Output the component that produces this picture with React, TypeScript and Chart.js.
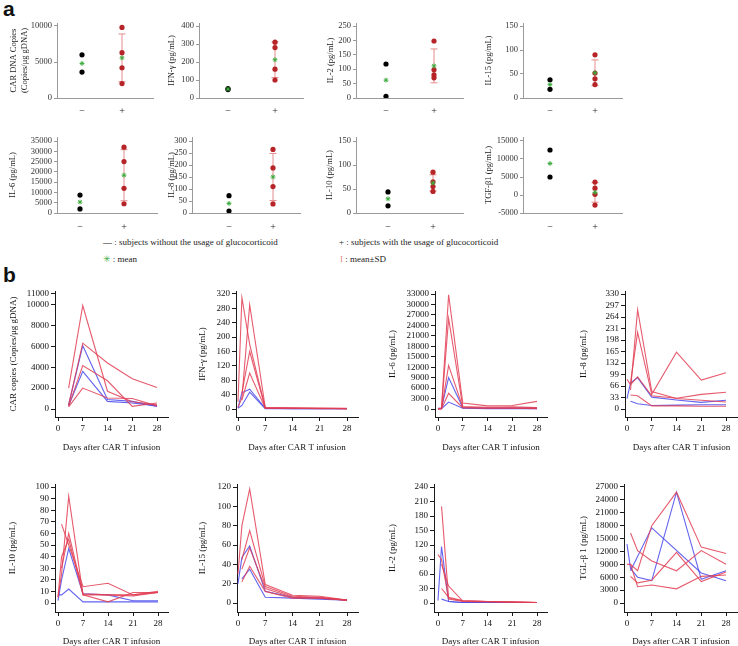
import React, { useEffect, useRef } from 'react';
import { Chart, registerables } from 'chart.js';
Chart.register(...registerables);

const SERIF = "'Liberation Serif', 'Times New Roman', Times, serif";
Chart.defaults.font.family = SERIF;

// ---------------- Panel a data ----------------
const GROUP_LABELS = ['−', '+'];
const A_CAR_MINUS = [6000, 3600];
const A_CAR_PLUS = [9800, 6300, 4200, 2000];
const A_CAR_TICKS = [0, 5000, 10000];
const A_IFN_MINUS = [52, 47];
const A_IFN_PLUS = [310, 280, 160, 100];
const A_IFN_TICKS = [0, 100, 200, 300, 400];
const A_IL2_MINUS = [118, 6];
const A_IL2_PLUS = [198, 98, 80, 70];
const A_IL2_TICKS = [0, 50, 100, 150, 200, 250];
const A_IL15_MINUS = [38, 18];
const A_IL15_PLUS = [90, 52, 40, 28];
const A_IL15_TICKS = [0, 50, 100, 150];
const A_IL6_MINUS = [8700, 2000];
const A_IL6_PLUS = [32000, 25000, 12000, 4500];
const A_IL6_TICKS = [0, 5000, 10000, 15000, 20000, 25000, 30000, 35000];
const A_IL8_MINUS = [72, 8];
const A_IL8_PLUS = [265, 188, 110, 38];
const A_IL8_TICKS = [0, 50, 100, 150, 200, 250, 300];
const A_IL10_MINUS = [44, 15];
const A_IL10_PLUS = [85, 65, 55, 45];
const A_IL10_TICKS = [0, 50, 100, 150];
const A_TGF_MINUS = [12500, 5000];
const A_TGF_PLUS = [3600, 1900, 200, -2800];
const A_TGF_TICKS = [-5000, 0, 5000, 10000, 15000];

// ---------------- Panel b data ----------------
const DAYS = [0, 1, 3, 7, 14, 21, 28];
const CAR_DAYS = [3, 7, 14, 21, 28];
const B_X_TICKS = [0, 7, 14, 21, 28];

const B_CAR_RED = [
  [2000, 9900, 1700, 700, 400],
  [400, 6300, 4400, 2900, 2050],
  [250, 4150, 2700, 250, 570],
  [200, 2000, 1050, 1000, 300],
];
const B_CAR_BLUE = [
  [400, 6050, 900, 730, 250],
  [300, 3600, 730, 570, 300],
];
const B_CAR_TICKS = [0, 2000, 4000, 6000, 8000, 10000, 11000];

const B_IFN_RED = [
  [20, 310, 180, 3, 2, 2, 1],
  [5, 30, 290, 4, 3, 2, 2],
  [null, 45, 160, 3, 2, 2, 1],
  [null, 25, 100, 2, 2, 1, 1],
];
const B_IFN_BLUE = [
  [3, 45, 55, 2, 1, 1, 1],
  [2, 10, 47, 1, 1, 1, 1],
];
const B_IFN_TICKS = [0, 40, 80, 120, 160, 200, 240, 280, 320];

const B_IL6_RED = [
  [100, 300, 32800, 1700, 900, 1000, 2200],
  [100, 200, 26000, 700, 500, 600, 400],
  [0, 100, 12500, 500, 300, 300, 200],
  [0, 100, 4500, 300, 200, 200, 100],
];
const B_IL6_BLUE = [
  [200, 300, 9000, 400, 300, 300, 300],
  [0, 100, 2000, 200, 100, 100, 100],
];
const B_IL6_TICKS = [0, 3000, 6000, 9000, 12000, 15000, 18000, 21000, 24000, 27000, 30000, 33000];

const B_IL8_RED = [
  [null, 55, 285, 50, 30, 25, 20],
  [null, 75, 220, 42, 163, 83, 104],
  [85, 70, 92, 38, 31, 42, 48],
  [null, 40, 38, 9, 9, 8, 8],
];
const B_IL8_BLUE = [
  [30, 75, 90, 34, 26, 19, 25],
  [null, 22, 15, 10, 11, 12, 12],
];
const B_IL8_TICKS = [0, 33, 66, 99, 132, 165, 198, 231, 264, 297, 330];

const B_IL10_RED = [
  [5, 25, 92, 7, 1, 9, 9],
  [null, 68, 50, 14, 17, 7, 10],
  [null, 30, 60, 8, 7, 7, 9],
  [5, 40, 55, 7, 7, 6, 9],
];
const B_IL10_BLUE = [
  [2, 20, 47, 8, 7, 2, 2],
  [7, 7, 12, 1, 1, 1, 1],
];
const B_IL10_TICKS = [0, 10, 20, 30, 40, 50, 60, 70, 80, 90, 100];

const B_IL15_RED = [
  [30, 80, 118, 19, 8, 7, 3],
  [null, 45, 75, 17, 7, 6, 3],
  [null, 35, 57, 15, 6, 5, 3],
  [null, 22, 38, 12, 5, 5, 3],
];
const B_IL15_BLUE = [
  [20, 47, 59, 12, 6, 5, 3],
  [null, 25, 35, 6, 5, 4, 3],
];
const B_IL15_TICKS = [0, 20, 40, 60, 80, 100, 120];

const B_IL2_RED = [
  [100, 90, 8, 3, 2, 2, 1],
  [null, 200, 10, 4, 3, 2, 1],
  [null, 80, 35, 4, 3, 2, 1],
  [null, 30, 12, 5, 3, 2, 1],
];
const B_IL2_BLUE = [
  [5, 117, 3, 1, 1, 1, 1],
  [null, 8, 3, 1, 1, 1, 1],
];
const B_IL2_TICKS = [0, 30, 60, 90, 120, 150, 180, 210, 240];

const B_TGF_RED = [
  [null, 16300, 12200, 9800, 7500, 12200, 9000],
  [9000, 9000, 3800, 4200, 3300, 6200, 6500],
  [null, 6200, 4700, 5300, 11800, 5000, 7200],
  [null, 9000, 7500, 18000, 25800, 13000, 11500],
];
const B_TGF_BLUE = [
  [null, 7500, null, 17500, null, 7000, 5200],
  [13700, 8000, 6000, 5200, 25800, 5500, 7500],
];
const B_TGF_TICKS = [0, 3000, 6000, 9000, 12000, 15000, 18000, 21000, 24000, 27000];

// ---------------- layout / style ----------------
const A_ROWS = [
  { areaTop: 23, areaBottom: 98, hiPx: 26, labelPad: 7 },
  { areaTop: 137, areaBottom: 213, hiPx: 141, labelPad: 8 },
];
const B_ROWS = [
  { areaTop: 291, areaBottom: 417, hiPx: 294, zeroPx: 409, xh: 35.4 },
  { areaTop: 484, areaBottom: 612, hiPx: 487, zeroPx: 603, xh: 34.4 },
];

const A_PLOTS = [
  { title: ['CAR DNA Copies', '(Copies/μg gDNA)'], minus: A_CAR_MINUS, plus: A_CAR_PLUS, ticks: A_CAR_TICKS, row: 0, axisX: 57, x0: 82, x1: 122, end: 153, titleX: 14 },
  { title: 'IFN-γ (pg/mL)', minus: A_IFN_MINUS, plus: A_IFN_PLUS, ticks: A_IFN_TICKS, row: 0, axisX: 199, x0: 228, x1: 275, end: 303, titleX: 172 },
  { title: 'IL-2 (pg/mL)', minus: A_IL2_MINUS, plus: A_IL2_PLUS, ticks: A_IL2_TICKS, row: 0, axisX: 356, x0: 386, x1: 434, end: 463, titleX: 331 },
  { title: 'IL-15 (pg/mL)', minus: A_IL15_MINUS, plus: A_IL15_PLUS, ticks: A_IL15_TICKS, row: 0, axisX: 523, x0: 550, x1: 595, end: 622, titleX: 489 },
  { title: 'IL-6 (pg/mL)', minus: A_IL6_MINUS, plus: A_IL6_PLUS, ticks: A_IL6_TICKS, row: 1, axisX: 57, x0: 80, x1: 124, end: 157, titleX: 13 },
  { title: 'IL-8 (pg/mL)', minus: A_IL8_MINUS, plus: A_IL8_PLUS, ticks: A_IL8_TICKS, row: 1, axisX: 192, x0: 229, x1: 273, end: 300, titleX: 172 },
  { title: 'IL-10 (pg/mL)', minus: A_IL10_MINUS, plus: A_IL10_PLUS, ticks: A_IL10_TICKS, row: 1, axisX: 356, x0: 388, x1: 433, end: 463, titleX: 330 },
  { title: 'TGF-β1 (pg/mL)', minus: A_TGF_MINUS, plus: A_TGF_PLUS, ticks: A_TGF_TICKS, row: 1, axisX: 523, x0: 550, x1: 595, end: 622, titleX: 489 },
];

const B_PLOTS = [
  { title: 'CAR copies (Copies/μg gDNA)', days: CAR_DAYS, red: B_CAR_RED, blue: B_CAR_BLUE, ticks: B_CAR_TICKS, row: 0, axisX: 55, x0: 58, x28: 157, end: 168, titleX: 13 },
  { title: 'IFN-γ (pg/mL)', days: DAYS, red: B_IFN_RED, blue: B_IFN_BLUE, ticks: B_IFN_TICKS, row: 0, axisX: 236, x0: 238, x28: 347, end: 358, titleX: 202 },
  { title: 'IL-6 (pg/mL)', days: DAYS, red: B_IL6_RED, blue: B_IL6_BLUE, ticks: B_IL6_TICKS, row: 0, axisX: 435, x0: 438, x28: 537, end: 547, titleX: 392 },
  { title: 'IL-8 (pg/mL)', days: DAYS, red: B_IL8_RED, blue: B_IL8_BLUE, ticks: B_IL8_TICKS, row: 0, axisX: 625, x0: 627, x28: 726, end: 738, titleX: 583 },
  { title: 'IL-10 (pg/mL)', days: DAYS, red: B_IL10_RED, blue: B_IL10_BLUE, ticks: B_IL10_TICKS, row: 1, axisX: 55, x0: 58, x28: 158, end: 168, titleX: 12 },
  { title: 'IL-15 (pg/mL)', days: DAYS, red: B_IL15_RED, blue: B_IL15_BLUE, ticks: B_IL15_TICKS, row: 1, axisX: 237, x0: 238, x28: 347, end: 358, titleX: 202 },
  { title: 'IL-2 (pg/mL)', days: DAYS, red: B_IL2_RED, blue: B_IL2_BLUE, ticks: B_IL2_TICKS, row: 1, axisX: 434, x0: 438, x28: 537, end: 547, titleX: 392 },
  { title: 'TGL-β 1 (pg/mL)', days: DAYS, red: B_TGF_RED, blue: B_TGF_BLUE, ticks: B_TGF_TICKS, row: 1, axisX: 624, x0: 627, x28: 726, end: 738, titleX: 583 },
];

const A_FONT = 8.5;
const B_FONT = 9;
const A_AXIS = '#9a9a9a';
const B_AXIS = '#1a1a1a';
const DOT_RED = 'rgb(182, 36, 40)';
const BAR_PINK = 'rgb(228, 140, 140)';
const MEAN_GREEN = 'rgb(60, 170, 60)';
const LINE_RED = 'rgba(226, 62, 84, 0.85)';
const LINE_BLUE = 'rgba(72, 72, 236, 0.85)';

function mean(a: number[]) {
  return a.reduce((s, v) => s + v, 0) / a.length;
}
function sd(a: number[]) {
  const m = mean(a);
  return Math.sqrt(a.reduce((s, v) => s + (v - m) * (v - m), 0) / (a.length - 1));
}

function geom(axisX: number, titleX: number, lh: number, areaTop: number, areaBottom: number, areaW: number, pt: number, prMin: number, xhWanted: number) {
  const left = Math.round(titleX - lh / 2);
  const lw = axisX - left;
  const top = areaTop - pt;
  const height = Math.ceil(pt + (areaBottom - areaTop) + xhWanted);
  const xh = height - pt - (areaBottom - areaTop);
  const width = Math.ceil(lw + areaW + prMin);
  const pr = width - lw - areaW;
  return { left, top, width, height, lw, xh, pr, pt };
}

function buildA(p: any) {
  const row = A_ROWS[p.row];
  const lo = p.ticks[0];
  const hi = p.ticks[p.ticks.length - 1];
  const upp = (hi - lo) / (row.areaBottom - row.hiPx);
  const yMax = hi + (row.hiPx - row.areaTop) * upp;
  const xu = 1 / (p.x1 - p.x0);
  const xMin = -(p.x0 - p.axisX) * xu;
  const xMax = 1 + (p.end - p.x1) * xu;
  const g = geom(p.axisX, p.titleX, A_FONT * 1.2, row.areaTop, row.areaBottom, p.end - p.axisX, 8, 8, 22);
  const m0 = mean(p.minus);
  const m1 = mean(p.plus);
  const s1 = sd(p.plus);
  const config: any = {
    type: 'scatter',
    data: {
      datasets: [
        {
          data: [{ x: 1, y: m1 - s1 }, { x: 1, y: m1 + s1 }],
          showLine: true, borderColor: BAR_PINK, borderWidth: 1,
          pointStyle: 'line', pointRadius: 3.5, pointBorderColor: BAR_PINK, pointBorderWidth: 1, order: 4,
        },
        {
          data: p.minus.map((v: number) => ({ x: 0, y: v })),
          pointRadius: 2.6, backgroundColor: '#000', borderColor: '#000', borderWidth: 0, order: 3,
        },
        {
          data: p.plus.map((v: number) => ({ x: 1, y: v })),
          pointRadius: 2.6, backgroundColor: DOT_RED, borderColor: DOT_RED, borderWidth: 0, order: 2,
        },
        {
          data: [{ x: 0, y: m0 }, { x: 1, y: m1 }],
          pointStyle: 'star', pointRadius: 2.4, borderColor: MEAN_GREEN, backgroundColor: MEAN_GREEN, pointBorderWidth: 1, order: 1,
        },
      ],
    },
    options: {
      animation: false, responsive: false, events: [],
      layout: { padding: { top: g.pt, right: g.pr, left: 0, bottom: 0 } },
      plugins: { legend: { display: false }, tooltip: { enabled: false } },
      scales: {
        x: {
          type: 'linear', min: xMin, max: xMax,
          afterBuildTicks: (s: any) => { s.ticks = [{ value: 0 }, { value: 1 }]; },
          afterFit: (s: any) => { s.height = g.xh; },
          ticks: { callback: (v: number) => GROUP_LABELS[v], font: { size: 10 }, color: '#222', padding: row.labelPad, maxRotation: 0, minRotation: 0, autoSkip: false },
          grid: { drawOnChartArea: false, drawTicks: false },
          border: { display: true, color: A_AXIS, width: 1 },
        },
        y: {
          type: 'linear', min: lo, max: yMax,
          afterBuildTicks: (s: any) => { s.ticks = p.ticks.map((v: number) => ({ value: v })); },
          afterFit: (s: any) => { s.width = g.lw; },
          ticks: { callback: (v: number) => String(v), font: { size: A_FONT }, color: '#333', padding: 2, autoSkip: false },
          grid: { drawOnChartArea: false, drawTicks: true, tickLength: 3, color: A_AXIS },
          border: { display: true, color: A_AXIS, width: 1 },
          title: { display: true, text: p.title, font: { size: A_FONT }, color: '#222', padding: 0 },
        },
      },
    },
  };
  return { g, config };
}

function buildB(p: any) {
  const row = B_ROWS[p.row];
  const hi = p.ticks[p.ticks.length - 1];
  const upp = hi / (row.zeroPx - row.hiPx);
  const yMax = hi + (row.hiPx - row.areaTop) * upp;
  const yMin = -(row.areaBottom - row.zeroPx) * upp;
  const xu = 28 / (p.x28 - p.x0);
  const xMin = -(p.x0 - p.axisX) * xu;
  const xMax = 28 + (p.end - p.x28) * xu;
  const g = geom(p.axisX, p.titleX, B_FONT * 1.2, row.areaTop, row.areaBottom, p.end - p.axisX, 8, 8, row.xh);
  const toPts = (s: (number | null)[]) =>
    p.days.map((d: number, i: number) => ({ x: d, y: s[i] })).filter((q: any) => q.y !== null);
  const mk = (s: (number | null)[], color: string) => ({
    data: toPts(s), showLine: true, borderColor: color, borderWidth: 1.1, pointRadius: 0, fill: false, tension: 0,
  });
  const config: any = {
    type: 'scatter',
    data: {
      datasets: [
        ...p.red.map((s: any) => mk(s, LINE_RED)),
        ...p.blue.map((s: any) => mk(s, LINE_BLUE)),
      ],
    },
    options: {
      animation: false, responsive: false, events: [],
      layout: { padding: { top: g.pt, right: g.pr, left: 0, bottom: 0 } },
      plugins: { legend: { display: false }, tooltip: { enabled: false } },
      scales: {
        x: {
          type: 'linear', min: xMin, max: xMax,
          afterBuildTicks: (s: any) => { s.ticks = B_X_TICKS.map((v) => ({ value: v })); },
          afterFit: (s: any) => { s.height = g.xh; },
          ticks: { callback: (v: number) => String(v), font: { size: B_FONT }, color: '#111', padding: 2, maxRotation: 0, minRotation: 0, autoSkip: false },
          grid: { drawOnChartArea: false, drawTicks: true, tickLength: 4, color: B_AXIS },
          border: { display: true, color: B_AXIS, width: 1 },
          title: { display: true, text: 'Days after CAR T infusion', font: { size: B_FONT }, color: '#111', padding: 0 },
        },
        y: {
          type: 'linear', min: yMin, max: yMax,
          afterBuildTicks: (s: any) => { s.ticks = p.ticks.map((v: number) => ({ value: v })); },
          afterFit: (s: any) => { s.width = g.lw; },
          ticks: { callback: (v: number) => String(v), font: { size: B_FONT }, color: '#111', padding: 2, autoSkip: false },
          grid: { drawOnChartArea: false, drawTicks: true, tickLength: 4, color: B_AXIS },
          border: { display: true, color: B_AXIS, width: 1 },
          title: { display: true, text: p.title, font: { size: B_FONT }, color: '#111', padding: 0 },
        },
      },
    },
  };
  return { g, config };
}

function Plot({ build }: { build: { g: any; config: any } }) {
  const ref = useRef<HTMLCanvasElement | null>(null);
  const { g, config } = build;
  useEffect(() => {
    if (!ref.current) return;
    const chart = new Chart(ref.current, config);
    return () => chart.destroy();
  }, []);
  return (
    <canvas
      ref={ref}
      width={g.width}
      height={g.height}
      style={{ position: 'absolute', left: g.left, top: g.top, width: g.width, height: g.height }}
    />
  );
}

const textStyle: React.CSSProperties = {
  position: 'absolute', fontFamily: SERIF, fontSize: 9, lineHeight: '10px', color: '#222', whiteSpace: 'nowrap',
};
const panelLetter: React.CSSProperties = {
  position: 'absolute', fontFamily: "'Liberation Sans', Arial, sans-serif", fontWeight: 'bold', fontSize: 21, lineHeight: '21px', color: '#111',
};

export default function App() {
  return (
    <div style={{ position: 'absolute', left: 0, top: 0, width: 738, height: 646, overflow: 'hidden', background: '#fff' }}>
      <div style={{ ...panelLetter, left: 3, top: -2 }}>a</div>
      <div style={{ ...panelLetter, left: 3, top: 264 }}>b</div>
      {A_PLOTS.map((p, i) => <Plot key={'a' + i} build={buildA(p)} />)}
      <div style={{ ...textStyle, left: 103, top: 237 }}>— : subjects without the usage of glucocorticoid</div>
      <div style={{ ...textStyle, left: 103, top: 254 }}>
        <span style={{ color: MEAN_GREEN, fontFamily: "'DejaVu Sans', sans-serif", fontSize: 9 }}>✳</span> : mean
      </div>
      <div style={{ ...textStyle, left: 339, top: 237 }}>+ : subjects with the usage of glucocorticoid</div>
      <div style={{ ...textStyle, left: 340, top: 254 }}>
        <span style={{ color: BAR_PINK }}>I</span> : mean±SD
      </div>
      {B_PLOTS.map((p, i) => <Plot key={'b' + i} build={buildB(p)} />)}
    </div>
  );
}
